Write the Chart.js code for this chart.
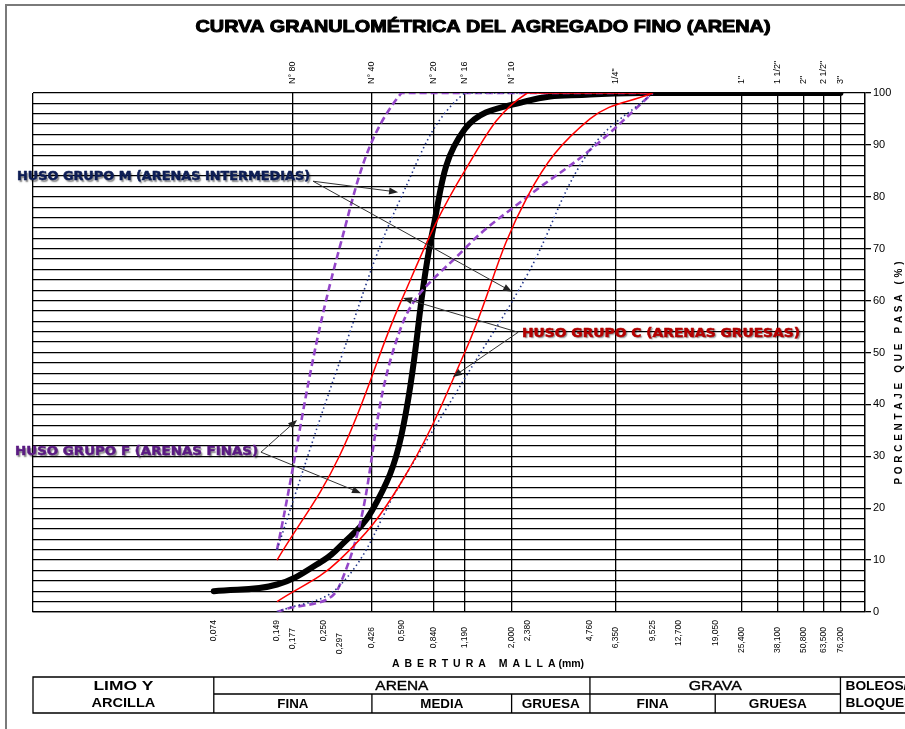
<!DOCTYPE html>
<html>
<head>
<meta charset="utf-8">
<script src="https://cdn.jsdelivr.net/npm/chart.js@4.4.0/dist/chart.umd.min.js"></script>
<style>
html, body { margin: 0; padding: 0; background: #fff; }
#wrap { position: relative; width: 905px; height: 729px; }
</style>
</head>
<body>
<div id="wrap"><canvas id="curva" width="905" height="729"></canvas></div>
<script>
// aberturas de tamiz (mm) rotuladas bajo el eje
var sieveSizes = [0.074, 0.149, 0.177, 0.250, 0.297, 0.426, 0.590, 0.840, 1.190, 2.000, 2.380,
                  4.760, 6.350, 9.525, 12.700, 19.050, 25.400, 38.100, 50.800, 63.500, 76.200];
// mallas con linea vertical y nombre arriba
var meshSizes = [0.177, 0.426, 0.840, 1.190, 2.000, 6.350, 25.400, 38.100, 50.800, 63.500, 76.200];
var meshNames = ['N° 80', 'N° 40', 'N° 20', 'N° 16', 'N° 10', '1/4"', '1"', '1 1/2"', '2"', '2 1/2"', '3"'];

// muestra ensayada
var sampleSizes = [0.074, 0.149, 0.250, 0.297, 0.426, 0.590, 0.840, 1.190, 2.380, 4.760, 9.525, 76.200];
var samplePass  = [4.0, 5.3, 10.0, 12.5, 19.5, 34.0, 74.0, 93.0, 98.5, 99.7, 100, 100];

// husos granulometricos
var limitSizes = [0.149, 0.297, 0.590, 1.190, 2.380, 4.760, 9.525];
var husoCMax = [10, 30, 60, 85, 100, 100, 100];
var husoCMin = [2, 10, 25, 50, 80, 95, 100];
var husoMMax = [12, 48, 80, 100, 100, 100, 100];
var husoMMin = [0, 5, 25, 45, 65, 89, 100];
var husoFMax = [12, 70, 100, 100, 100, 100, 100];
var husoFMin = [0, 5, 55, 70, 80, 89, 100];

// clasificacion por tamaño (limites en mm)
var soilBounds = [0.074, 0.426, 2.000, 4.760, 19.050, 76.200];

// notas con flechas (posiciones en mm y % pasa)
var notes = [
    { text: 'HUSO GRUPO M (ARENAS INTERMEDIAS)', color: '#0d1d55', at: [0.00838, 83.8], w: 293,
      from: [0.222, 83.0], to: [[0.569, 80.9], [2.01, 61.7]] },
    { text: 'HUSO GRUPO C (ARENAS GRUESAS)', color: '#b30000', at: [2.244, 53.6], w: 278,
      from: [2.15, 53.9], to: [[0.601, 60.5], [1.045, 45.3]] },
    { text: 'HUSO GRUPO F (ARENAS FINAS)', color: '#5a1a82', at: [0.0082, 30.8], w: 243,
      from: [0.1247, 30.8], to: [[0.186, 37.0], [0.3775, 22.9]] }
];

function toXY(xs, ys) {
    var out = [];
    for (var i = 0; i < xs.length; i++) out.push({ x: xs[i], y: ys[i] });
    return out;
}

function fmt(v) {
    return v.toFixed(3).replace('.', ',');
}

function fitText(ctx, txt, x, y, font, color, width, align, stroke) {
    ctx.save();
    ctx.font = font;
    var w = ctx.measureText(txt).width;
    var sx = width ? width / w : 1;
    ctx.translate(x, y);
    ctx.scale(sx, 1);
    ctx.textAlign = align || 'center';
    ctx.textBaseline = 'middle';
    ctx.fillStyle = color;
    ctx.fillText(txt, 0, 0);
    if (stroke) {
        ctx.shadowColor = 'rgba(0,0,0,0)';
        ctx.strokeStyle = color;
        ctx.lineWidth = stroke;
        ctx.lineJoin = 'round';
        ctx.strokeText(txt, 0, 0);
    }
    ctx.restore();
}

function spacedText(ctx, txt, spacing) {
    // dibuja letra por letra desde x=0, devuelve ancho
    var x = 0;
    for (var i = 0; i < txt.length; i++) {
        ctx.fillText(txt[i], x, 0);
        x += ctx.measureText(txt[i]).width + spacing;
    }
    return x - spacing;
}

function spacedWidth(ctx, txt, spacing) {
    var x = 0;
    for (var i = 0; i < txt.length; i++) x += ctx.measureText(txt[i]).width + spacing;
    return x - spacing;
}

function arrow(ctx, x1, y1, x2, y2) {
    var a = Math.atan2(y2 - y1, x2 - x1);
    var len = 9, half = 3.5;
    ctx.beginPath();
    ctx.moveTo(x1, y1);
    ctx.lineTo(x2 - Math.cos(a) * len * 0.8, y2 - Math.sin(a) * len * 0.8);
    ctx.stroke();
    ctx.beginPath();
    ctx.moveTo(x2, y2);
    ctx.lineTo(x2 - Math.cos(a) * len - Math.sin(a) * half, y2 - Math.sin(a) * len + Math.cos(a) * half);
    ctx.lineTo(x2 - Math.cos(a) * len + Math.sin(a) * half, y2 - Math.sin(a) * len - Math.cos(a) * half);
    ctx.closePath();
    ctx.fill();
}

var lowRow = { '0,177': 8, '0,297': 13, '0,426': 7, '0,840': 7, '1,190': 7, '2,000': 7, '6,350': 7,
               '25,400': 7, '38,100': 7, '50,800': 7, '63,500': 7, '76,200': 7 };

var decor = {
    id: 'decor',
    beforeDraw: function (chart) {
        var ctx = chart.ctx;
        ctx.save();
        ctx.fillStyle = '#fff';
        ctx.fillRect(0, 0, chart.width, chart.height);
        ctx.strokeStyle = '#7a7a7a';
        ctx.lineWidth = 2;
        ctx.beginPath();
        ctx.moveTo(6, 729);
        ctx.lineTo(6, 5);
        ctx.lineTo(905, 5);
        ctx.stroke();
        ctx.restore();
    },
    afterDraw: function (chart) {
        var ctx = chart.ctx;
        var sx = chart.scales.x, sy = chart.scales.y;
        var area = chart.chartArea;
        ctx.save();

        // titulo
        fitText(ctx, 'CURVA GRANULOMÉTRICA DEL AGREGADO FINO (ARENA)', 483, 27,
                'bold 17px "Liberation Sans", Arial, sans-serif', '#000', 575, 'center', 1);

        // nombres de mallas arriba
        ctx.fillStyle = '#000';
        ctx.font = '9px "Liberation Sans", Arial, sans-serif';
        ctx.textBaseline = 'middle';
        for (var i = 0; i < meshSizes.length; i++) {
            ctx.save();
            ctx.translate(sx.getPixelForValue(meshSizes[i]), 84);
            ctx.rotate(-Math.PI / 2);
            ctx.textAlign = 'left';
            ctx.fillText(meshNames[i], 0, 0);
            ctx.restore();
        }

        // aberturas abajo
        ctx.font = '8.5px "Liberation Sans", Arial, sans-serif';
        for (var j = 0; j < sieveSizes.length; j++) {
            var lab = fmt(sieveSizes[j]);
            ctx.save();
            ctx.translate(sx.getPixelForValue(sieveSizes[j]), 620 + (lowRow[lab] || 0));
            ctx.rotate(-Math.PI / 2);
            ctx.textAlign = 'right';
            ctx.fillText(lab, 0, 0);
            ctx.restore();
        }

        // titulo eje x
        ctx.fillStyle = '#000';
        ctx.font = 'bold 10.5px "Liberation Sans", Arial, sans-serif';
        ctx.textAlign = 'left';
        var t1 = 'ABERTURA MALLA', t2 = ' (mm)';
        var w1 = spacedWidth(ctx, t1, 5.0), w2 = ctx.measureText(t2).width;
        ctx.save();
        ctx.translate(488 - (w1 + w2) / 2, 664);
        var ww = spacedText(ctx, t1, 5.0);
        ctx.fillText(t2, ww, 0);
        ctx.restore();

        // titulo eje y
        ctx.font = 'bold 10px "Liberation Sans", Arial, sans-serif';
        var ty = 'PORCENTAJE QUE PASA (%)';
        var wy = spacedWidth(ctx, ty, 3.7);
        ctx.save();
        ctx.translate(899, 373 + wy / 2);
        ctx.rotate(-Math.PI / 2);
        spacedText(ctx, ty, 3.7);
        ctx.restore();

        // tabla de clasificacion
        var top = 677, mid = 694, bot = 713;
        var xb = soilBounds.map(function (v) { return sx.getPixelForValue(v); });
        ctx.strokeStyle = '#000';
        ctx.lineWidth = 1.3;
        ctx.beginPath();
        ctx.moveTo(910, top); ctx.lineTo(area.left, top); ctx.lineTo(area.left, bot); ctx.lineTo(910, bot);
        ctx.moveTo(xb[0], top); ctx.lineTo(xb[0], bot);
        ctx.moveTo(xb[3], top); ctx.lineTo(xb[3], bot);
        ctx.moveTo(xb[5], top); ctx.lineTo(xb[5], bot);
        ctx.moveTo(xb[0], mid); ctx.lineTo(xb[5], mid);
        ctx.moveTo(xb[1], mid); ctx.lineTo(xb[1], bot);
        ctx.moveTo(xb[2], mid); ctx.lineTo(xb[2], bot);
        ctx.moveTo(xb[4], mid); ctx.lineTo(xb[4], bot);
        ctx.stroke();

        var fb = 'bold 13px "Liberation Sans", Arial, sans-serif';
        var fn = '13px "Liberation Sans", Arial, sans-serif';
        var cL = (area.left + xb[0]) / 2;
        fitText(ctx, 'LIMO Y', cL, 686, fb, '#000', 60, 'center');
        fitText(ctx, 'ARCILLA', cL, 703, fb, '#000', 64, 'center');
        fitText(ctx, 'ARENA', (xb[0] + xb[3]) / 2, 686, fn, '#000', 53, 'center', 0.4);
        fitText(ctx, 'GRAVA', (xb[3] + xb[5]) / 2, 686, fn, '#000', 53, 'center', 0.4);
        fitText(ctx, 'FINA', (xb[0] + xb[1]) / 2, 704, fb, '#000', 31, 'center');
        fitText(ctx, 'MEDIA', (xb[1] + xb[2]) / 2, 704, fb, '#000', 43, 'center');
        fitText(ctx, 'GRUESA', (xb[2] + xb[3]) / 2, 704, fb, '#000', 58, 'center');
        fitText(ctx, 'FINA', (xb[3] + xb[4]) / 2, 704, fb, '#000', 32, 'center');
        fitText(ctx, 'GRUESA', (xb[4] + xb[5]) / 2, 704, fb, '#000', 58, 'center');
        fitText(ctx, 'BOLEOS/', xb[5] + 5, 686, fb, '#000', 62, 'left');
        fitText(ctx, 'BLOQUES', xb[5] + 5, 703, fb, '#000', 68, 'left');

        // notas
        for (var k = 0; k < notes.length; k++) {
            var n = notes[k];
            ctx.strokeStyle = '#333';
            ctx.fillStyle = '#222';
            ctx.lineWidth = 1;
            var fx = sx.getPixelForValue(n.from[0]), fy = sy.getPixelForValue(n.from[1]);
            for (var m = 0; m < n.to.length; m++) {
                arrow(ctx, fx, fy, sx.getPixelForValue(n.to[m][0]), sy.getPixelForValue(n.to[m][1]));
            }
            ctx.save();
            ctx.shadowColor = 'rgba(0,0,0,0.5)';
            ctx.shadowOffsetX = 1.5;
            ctx.shadowOffsetY = 1.5;
            ctx.shadowBlur = 1.5;
            fitText(ctx, n.text, sx.getPixelForValue(n.at[0]), sy.getPixelForValue(n.at[1]),
                    'bold 12px "DejaVu Sans", Verdana, sans-serif', n.color, n.w, 'left', 0.5);
            ctx.restore();
        }
        ctx.restore();
    }
};

function limitLine(label, ys, color, width, dash) {
    return {
        label: label,
        data: toXY(limitSizes, ys),
        borderColor: color,
        borderWidth: width,
        borderDash: dash,
        pointRadius: 0,
        fill: false,
        tension: 0.4,
        order: 1
    };
}

new Chart(document.getElementById('curva').getContext('2d'), {
    type: 'line',
    data: {
        datasets: [
            limitLine('Huso C max', husoCMax, '#ff0000', 1.5, []),
            limitLine('Huso C min', husoCMin, '#ff0000', 1.5, []),
            limitLine('Huso M max', husoMMax, '#24378a', 1.6, [1.5, 3]),
            limitLine('Huso M min', husoMMin, '#24378a', 1.6, [1.5, 3]),
            limitLine('Huso F max', husoFMax, '#9446c9', 2.6, [7, 4]),
            limitLine('Huso F min', husoFMin, '#9446c9', 2.6, [7, 4]),
            {
                label: 'Muestra',
                data: toXY(sampleSizes, samplePass),
                borderColor: '#000',
                borderWidth: 6,
                borderCapStyle: 'round',
                borderJoinStyle: 'round',
                pointRadius: 0,
                fill: false,
                tension: 0.4,
                order: 9
            }
        ]
    },
    options: {
        responsive: false,
        animation: false,
        layout: { padding: { left: 33, top: 93, right: 0, bottom: 0 } },
        plugins: {
            legend: { display: false },
            title: { display: false },
            tooltip: { enabled: false }
        },
        scales: {
            x: {
                type: 'logarithmic',
                position: 'bottom',
                min: 0.01,
                max: 100,
                afterBuildTicks: function (scale) {
                    scale.ticks = [0.01].concat(meshSizes, [100]).map(function (v) { return { value: v }; });
                },
                afterFit: function (scale) { scale.height = 117; },
                ticks: { display: false },
                grid: { color: '#000', lineWidth: 1.3, drawTicks: false },
                border: { display: true, color: '#000', width: 1.3 }
            },
            y: {
                position: 'right',
                min: 0,
                max: 100,
                afterFit: function (scale) { scale.width = 40; },
                ticks: {
                    stepSize: 2,
                    autoSkip: false,
                    padding: 2,
                    color: '#000',
                    font: { family: '"Liberation Sans", Arial, sans-serif', size: 11 },
                    callback: function (v) { return v % 10 === 0 ? v : ''; }
                },
                grid: {
                    color: '#000',
                    lineWidth: 1.3,
                    tickLength: 6,
                    tickColor: function (c) { return c.tick && c.tick.value % 10 === 0 ? '#000' : 'rgba(0,0,0,0)'; }
                },
                border: { display: true, color: '#000', width: 1.3 }
            }
        }
    },
    plugins: [decor]
});
</script>
</body>
</html>
